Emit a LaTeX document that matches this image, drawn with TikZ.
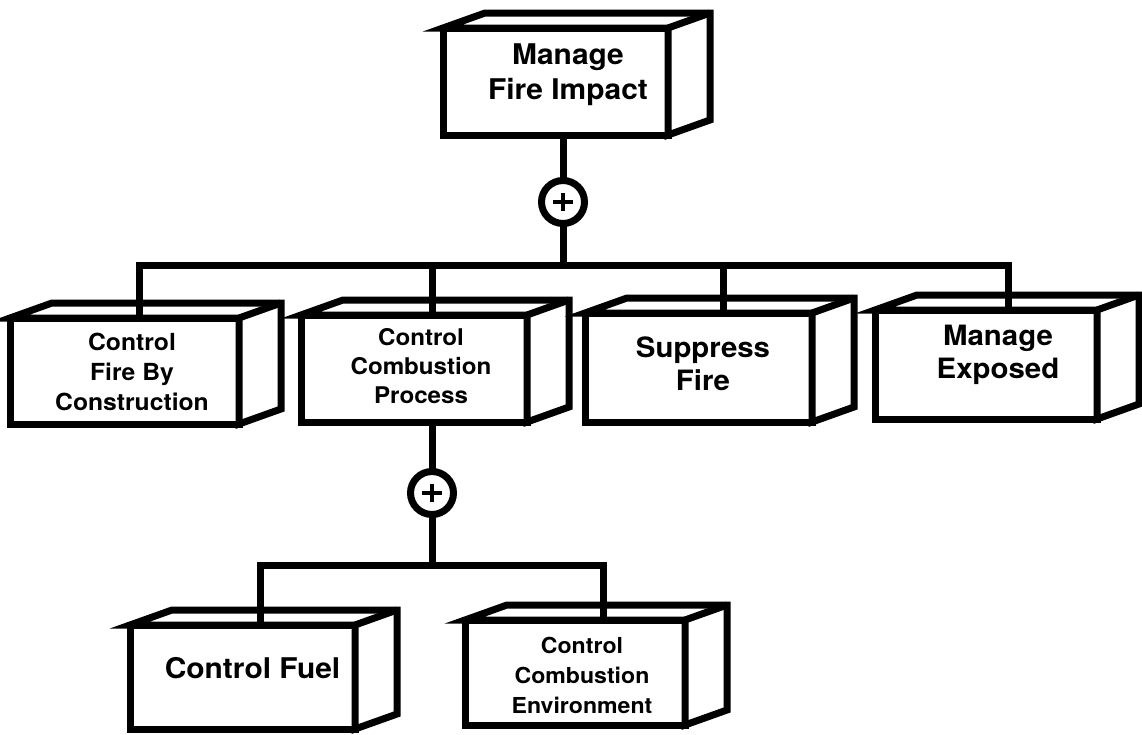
\documentclass[tikz,border=0pt]{standalone}
\usepackage{fontspec}
\setmainfont[FakeStretch=1.05]{TeX Gyre Heros}
% A solid block: front face as a named node, then its top and right faces
\newcommand{\cubebox}[4]{%
  \node[front, minimum width=#3, minimum height=#4] (#1) at (#2) {};
  \filldraw[ink, fill=white] (#1.north west) -- ++(42,-15)
    -- ([shift={(42,-15)}]#1.north east) -- ([shift={(42,-15)}]#1.south east)
    -- (#1.south east) -- (#1.north east) -- cycle;
  \draw[ink] (#1.north east) -- ++(42,-15);
}
\begin{document}
\begin{tikzpicture}[x=1pt, y=-1pt,
  ink/.style={line width=7pt, line join=miter},
  front/.style={ink, draw, fill=white, rectangle, inner sep=0pt, outer sep=0pt},
  gate/.style={ink, draw, fill=white, circle, minimum size=43pt, inner sep=0pt, outer sep=0pt},
  plusmark/.style={line width=3.5pt},
  lbl/.style 2 args={font=\bfseries\fontsize{#1}{#2}\selectfont, align=center, inner sep=0pt}]
\useasboundingbox (0,0) rectangle (1142,734);

% blocks
\cubebox{topbox}{555.5,81.5}{225}{107}
\cubebox{cfbc}{124.5,371}{229}{106}
\cubebox{ccp}{414,368.5}{226}{107}
\cubebox{sf}{698.5,367.5}{227}{109}
\cubebox{me}{986,364.5}{222}{109}
\cubebox{cf}{242.5,677}{225}{104}
\cubebox{cce}{575,672.5}{220}{105}

% labels
\node[lbl={28.5}{35}] (topbox-t) at (568,75) {Manage\\Fire Impact};
\node[lbl={23.5}{30}] (cfbc-t) at (132,371.5) {Control\\Fire By\\Construction};
\node[lbl={23}{29}] (ccp-t) at (421,366.5) {Control\\Combustion\\Process};
\node[lbl={28}{33}] (sf-t) at (703,363.5) {Suppress\\Fire};
\node[lbl={28}{33}] (me-t) at (998,354.5) {Manage\\Exposed};
\node[lbl={28.5}{34}] (cf-t) at (252.5,668.5) {Control Fuel};
\node[lbl={22}{30}] (cce-t) at (582,675.5) {Control\\Combustion\\Environment};

% junction points
\coordinate (busL) at (139,265);
\coordinate (busR) at (1008,265);
\coordinate (tap3) at (432,265);
\coordinate (tap4) at (723,265);
\coordinate (lowL) at (260,565);
\coordinate (lowR) at (603,565);
\coordinate (g1) at (563,202);
\coordinate (g2) at (432,493);

% connectors
\draw[ink] (topbox.south -| g1) -- (g1) -- (g1 |- busL);
\draw[ink] (cfbc.north -| busL) -- (busL) -- (busR) -- (me.north -| busR);
\draw[ink] (tap3) -- (ccp.north -| tap3);
\draw[ink] (tap4) -- (sf.north -| tap4);
\draw[ink] (ccp.south -| g2) -- (g2) -- (g2 |- lowL);
\draw[ink] (cf.north -| lowL) -- (lowL) -- (lowR) -- (cce.north -| lowR);

% OR gates
\node[gate] (c1) at (g1) {};
\node[gate] (c2) at (g2) {};
\draw[plusmark] (c1.center) +(-10,0) -- +(10,0) (c1.center) +(0,-9) -- +(0,9);
\draw[plusmark] (c2.center) +(-10,0) -- +(10,0) (c2.center) +(0,-9) -- +(0,9);
\end{tikzpicture}
\end{document}
